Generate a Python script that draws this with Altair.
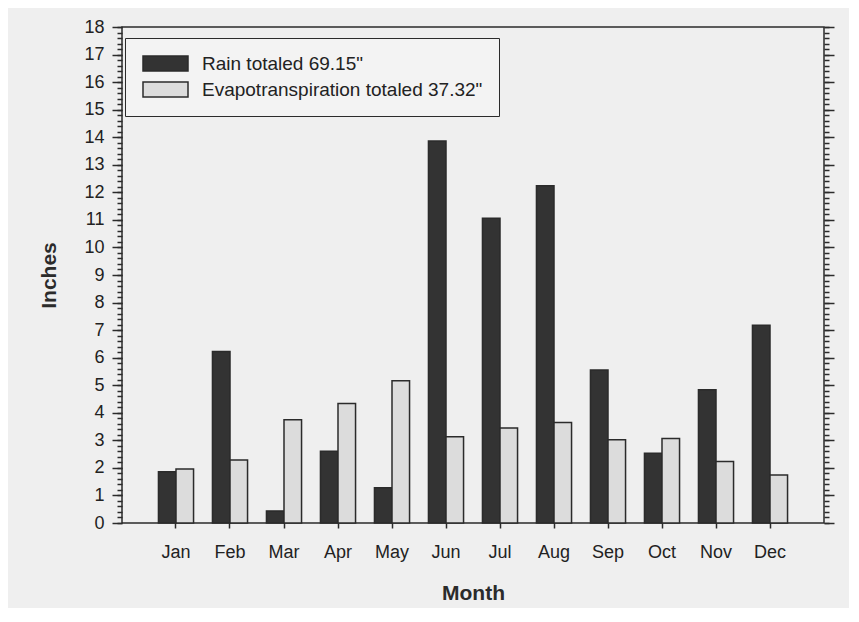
import altair as alt
import pandas as pd

months = ["Jan", "Feb", "Mar", "Apr", "May", "Jun", "Jul", "Aug", "Sep", "Oct", "Nov", "Dec"]
rain = [1.86, 6.22, 0.44, 2.60, 1.28, 13.86, 11.06, 12.24, 5.55, 2.53, 4.84, 7.18]
et = [1.96, 2.29, 3.75, 4.34, 5.16, 3.13, 3.45, 3.65, 3.02, 3.07, 2.23, 1.74]
series = ['Rain totaled 69.15"', 'Evapotranspiration totaled 37.32"']
major_ticks = list(range(0, 19))
minor_ticks = [round(i * 0.2, 1) for i in range(0, 91)]

rows = []
for m, r, e in zip(months, rain, et):
    rows.append({"month": m, "series": series[0], "value": r})
    rows.append({"month": m, "series": series[1], "value": e})
df = pd.DataFrame(rows)

FONT = "Liberation Sans"
INK = "#2b2b2b"
yscale = alt.Scale(domain=[0, 18], nice=False, zero=True)

bars = alt.Chart(df).mark_bar(stroke=INK, strokeWidth=1.5).encode(
    x=alt.X(
        "month:N",
        sort=months,
        scale=alt.Scale(paddingInner=0.35, paddingOuter=0.675),
        axis=alt.Axis(
            title="Month", labelAngle=0, tickSize=5, labelPadding=15,
            labelFontSize=18, titleFontSize=21, titlePadding=21,
            domain=False, grid=False,
        ),
    ),
    xOffset=alt.XOffset("series:N", sort=series, scale=alt.Scale(paddingInner=0, paddingOuter=0)),
    y=alt.Y(
        "value:Q", scale=yscale,
        axis=alt.Axis(
            orient="left", values=major_ticks, tickSize=10, labelPadding=8,
            labelFontSize=18, title="Inches", titleFontSize=21, titlePadding=24,
            domain=False, grid=False,
        ),
    ),
    color=alt.Color(
        "series:N", sort=series,
        scale=alt.Scale(domain=series, range=["#333333", "#dcdcdc"]),
        legend=alt.Legend(
            title=None, orient="none", legendX=3, legendY=11,
            symbolType="M-1,-1H5V1H-1Z", symbolSize=225,
            symbolStrokeColor=INK, symbolStrokeWidth=1.5, symbolOpacity=1,
            labelFontSize=19, labelOffset=42, labelLimit=600,
            padding=16, rowPadding=5,
            strokeColor=INK, fillColor="#f3f3f3",
        ),
    ),
)

def tick_layer(orient, values, size):
    return alt.Chart(df).mark_point(opacity=0).encode(
        y=alt.Y(
            "value:Q", scale=yscale,
            axis=alt.Axis(
                orient=orient, values=values, tickSize=size, labels=False,
                title=None, domain=False, grid=False,
            ),
        )
    )

chart = alt.layer(
    bars,
    tick_layer("left", minor_ticks, 5),
    tick_layer("right", major_ticks, 10),
    tick_layer("right", minor_ticks, 5),
).resolve_scale(y="shared").resolve_axis(y="independent").properties(
    width=702, height=496,
    autosize=alt.AutoSizeParams(type="none"),
    padding={"left": 114, "top": 19, "right": 25, "bottom": 85},
    background="#efefef",
).configure_view(
    stroke=INK, strokeWidth=1.5,
).configure_axis(
    labelFont=FONT, titleFont=FONT, labelColor="#222222", titleColor="#2b2b2b",
    tickColor=INK, tickWidth=1.5, titleFontWeight="bold",
).configure_legend(
    labelFont=FONT, labelColor="#222222",
)

chart.save("out.html", embed_options={"renderer": "svg", "actions": False})
